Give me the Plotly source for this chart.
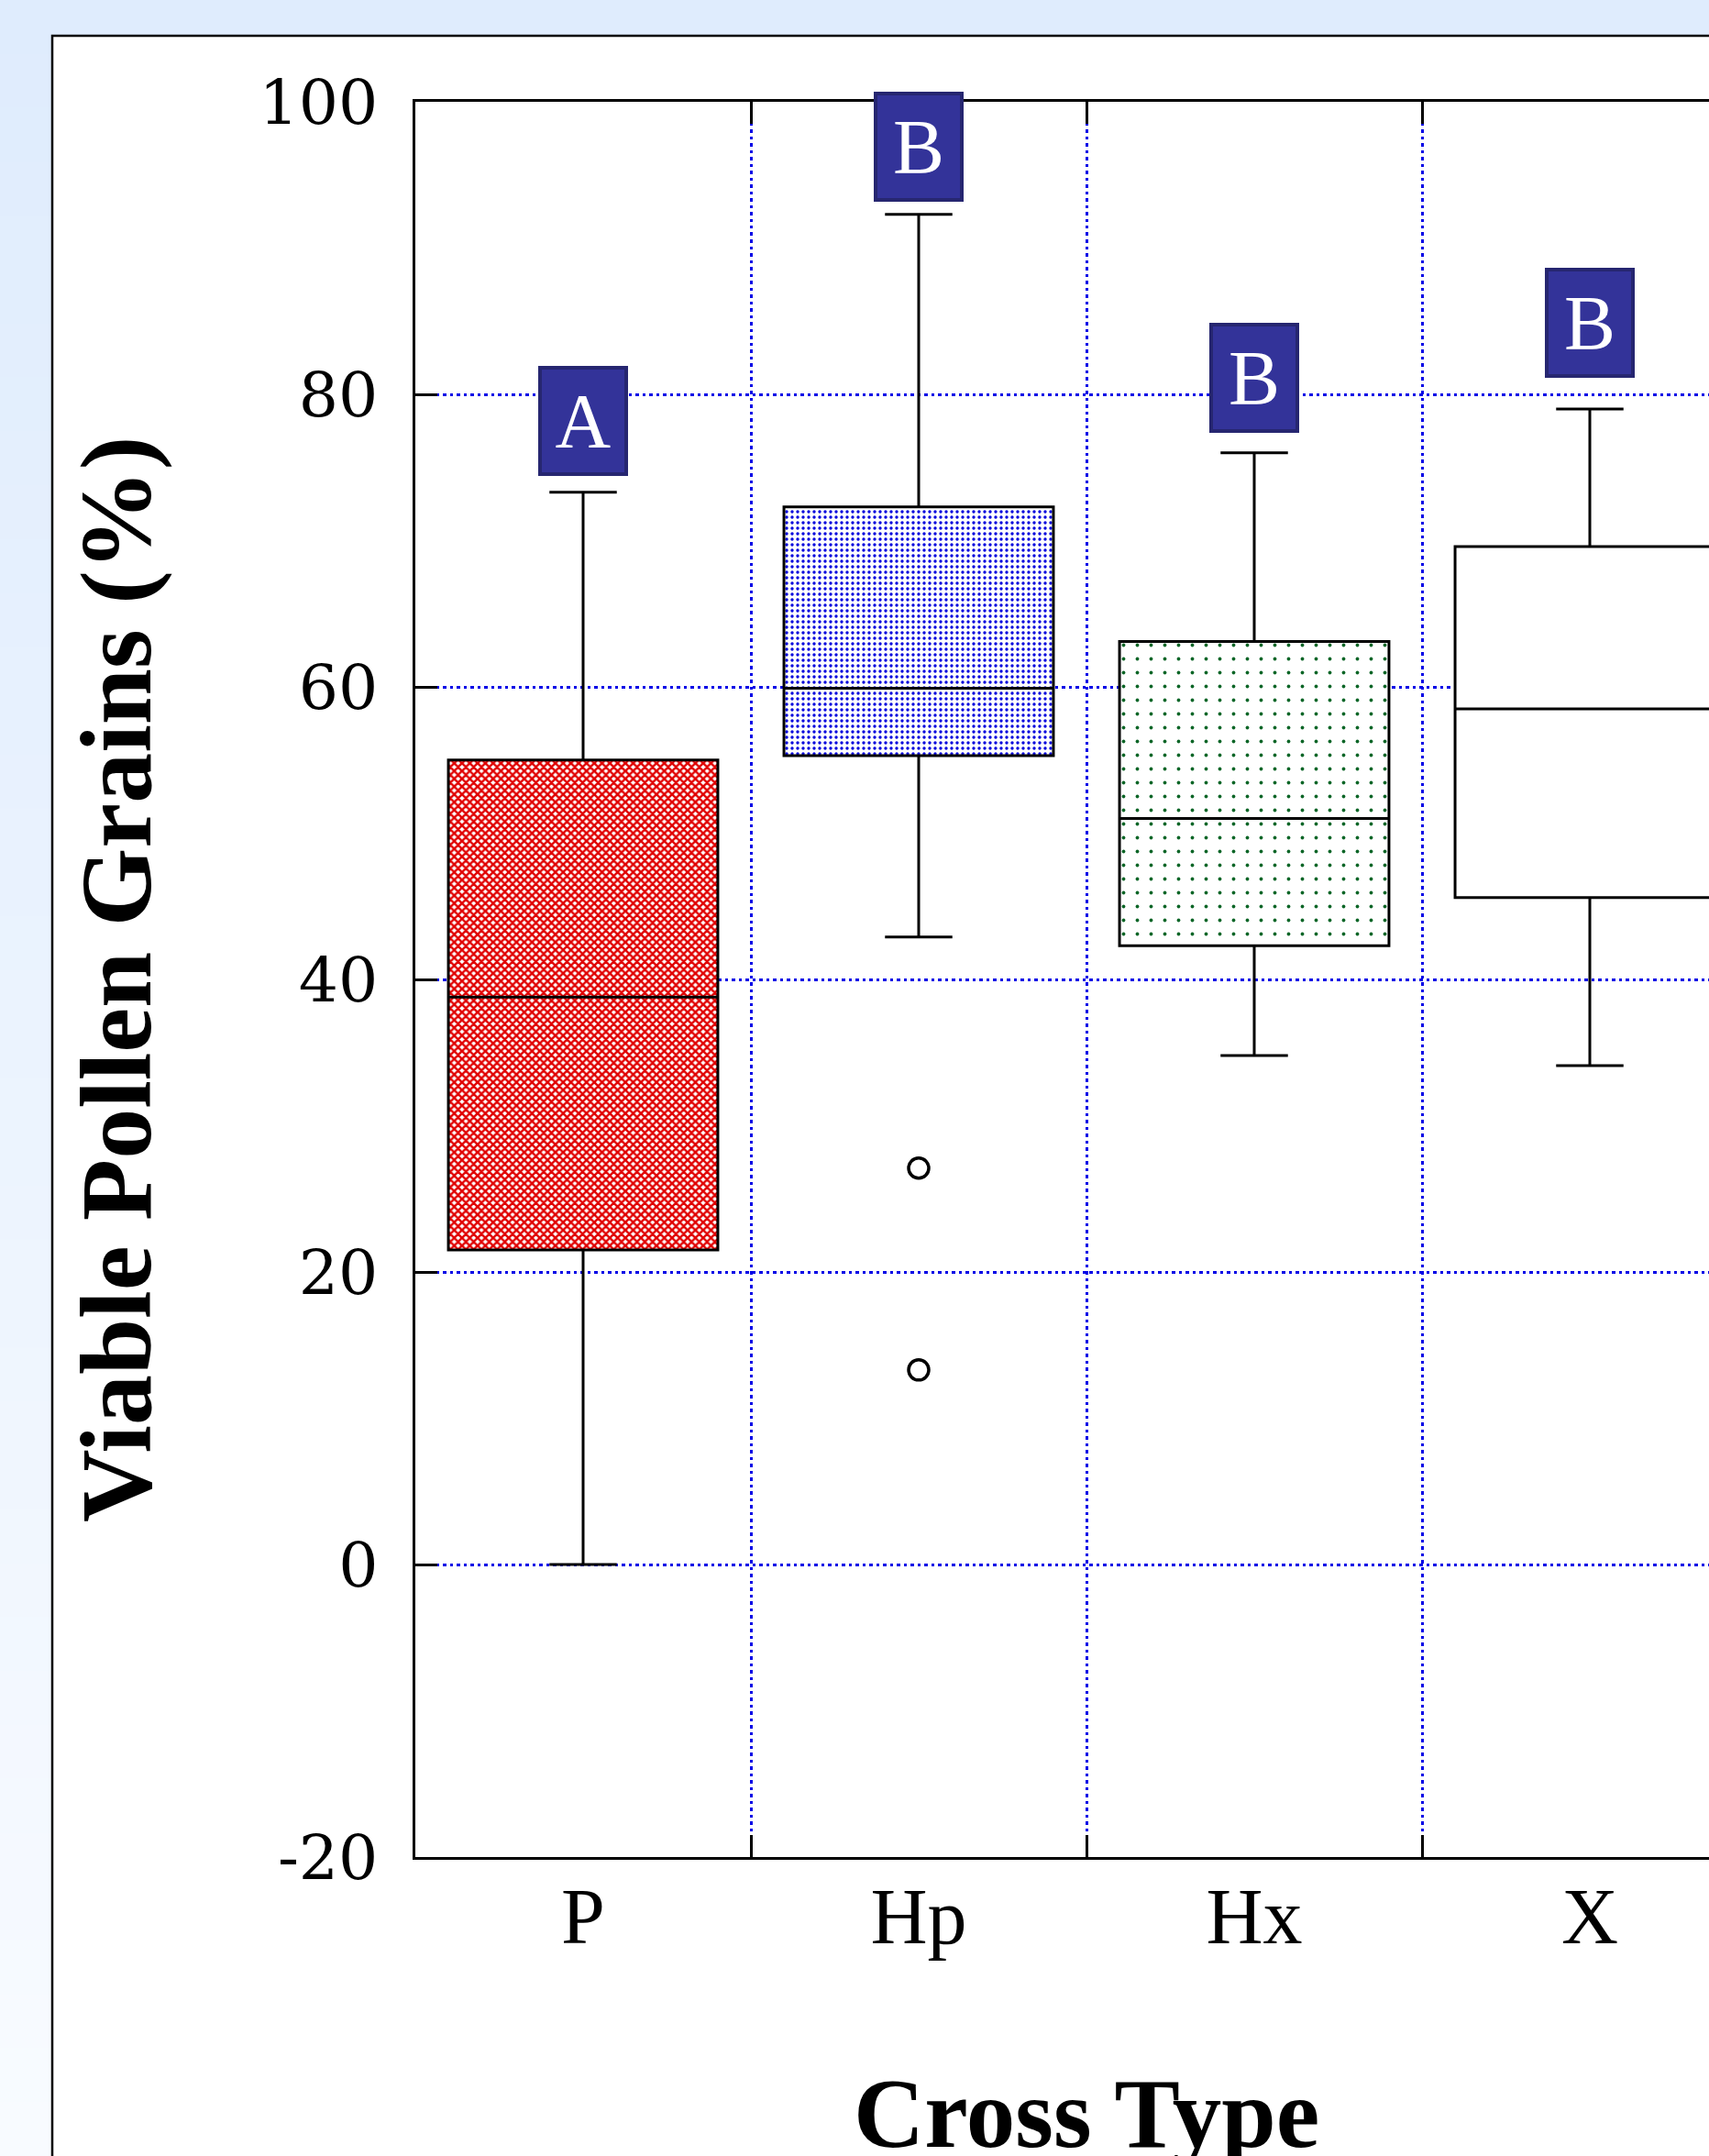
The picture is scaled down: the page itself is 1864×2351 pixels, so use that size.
import plotly.graph_objects as go

# ---------------- data ----------------
categories = ["P", "Hp", "Hx", "X"]
lower_fence = [0.0, 42.9, 34.8, 34.1]
q1_vals = [21.5, 55.3, 42.3, 45.6]
median_vals = [38.8, 59.9, 51.0, 58.5]
q3_vals = [55.0, 72.3, 63.1, 69.6]
upper_fence = [73.3, 92.3, 76.0, 79.0]

outlier_cat = ["Hp", "Hp"]
outlier_vals = [27.1, 13.3]

sig_letters = ["A", "B", "B", "B"]
sig_y = [78.2, 96.9, 81.1, 84.9]

y_ticks = [-20, 0, 20, 40, 60, 80, 100]

# ---------------- styling ----------------
W, H = 1864, 2351
L, T, B = 453, 111, 326          # plot area margins (px)
PW = W - L
PH = H - T - B

def px2paper_x(px):
    return (px - L) / PW

def px2paper_y(py):
    return (H - B - py) / PH

fills = [
    dict(fg="#e00000", shape="x", size=6, solidity=0.65),
    dict(fg="#0000dd", shape=".", size=6, solidity=0.25),
    dict(fg="#0d6628", shape=".", size=15, solidity=0.05),
    None,
]

BOXW = 0.803
GRID = "#0000e6"

fig = go.Figure()

for i, c in enumerate(categories):
    f = fills[i]
    if f is not None:
        fig.add_trace(go.Bar(
            x=[c], y=[q3_vals[i] - q1_vals[i]], base=[q1_vals[i]],
            width=BOXW,
            marker=dict(color=f["fg"], line=dict(width=0),
                        pattern=dict(shape=f["shape"], fgcolor=f["fg"], bgcolor="white",
                                     size=f["size"], solidity=f["solidity"], fillmode="replace")),
            showlegend=False, hoverinfo="skip",
        ))

for i, c in enumerate(categories):
    fig.add_trace(go.Box(
        x=[c], q1=[q1_vals[i]], median=[median_vals[i]], q3=[q3_vals[i]],
        lowerfence=[lower_fence[i]], upperfence=[upper_fence[i]],
        width=BOXW, whiskerwidth=0.25,
        fillcolor="white" if fills[i] is None else "rgba(0,0,0,0)",
        line=dict(color="black", width=3),
        boxpoints=False, showlegend=False,
    ))

fig.add_trace(go.Scatter(
    x=outlier_cat, y=outlier_vals, mode="markers",
    marker=dict(symbol="circle-open", size=22, color="black", line=dict(width=3.5, color="black")),
    showlegend=False, hoverinfo="skip",
))

# significance letters
for c, lt, yv in zip(categories, sig_letters, sig_y):
    fig.add_annotation(
        x=c, y=yv, xref="x", yref="y", text=lt, showarrow=False,
        font=dict(family="Liberation Serif", size=84, color="white"),
        bgcolor="#333399", bordercolor="#262670", borderwidth=4, borderpad=0,
        width=90, height=112, align="center", valign="middle",
    )

# axis titles
fig.add_annotation(
    x=px2paper_x(127), y=0.5, xref="paper", yref="paper",
    text="<b>Viable Pollen Grains (%)</b>", textangle=-90, showarrow=False,
    font=dict(family="Liberation Serif", size=110, color="black"),
    xanchor="center", yanchor="middle",
)
fig.add_annotation(
    x=1.5, y=px2paper_y(2305), xref="x", yref="paper",
    text="<b>Cross Type</b>", showarrow=False,
    font=dict(family="Liberation Serif", size=107, color="black"),
    xanchor="center", yanchor="middle",
)

# background: light blue frame with gradient on the left strip, white panel
shapes = []
nb = 40
top_rgb = (0xdf, 0xec, 0xfd)
bot_rgb = (0xf8, 0xfb, 0xff)
for k in range(nb):
    t = k / (nb - 1)
    col = "rgb(%d,%d,%d)" % tuple(round(a + (b - a) * t) for a, b in zip(top_rgb, bot_rgb))
    y0 = k * H / nb
    y1 = (k + 1) * H / nb + 1
    shapes.append(dict(type="rect", xref="paper", yref="paper", layer="below",
                       x0=px2paper_x(0), x1=px2paper_x(57),
                       y0=px2paper_y(y1), y1=px2paper_y(y0),
                       fillcolor=col, line=dict(width=0)))
shapes.append(dict(type="rect", xref="paper", yref="paper", layer="below",
                   x0=px2paper_x(57), x1=px2paper_x(W + 50),
                   y0=px2paper_y(H + 50), y1=px2paper_y(39),
                   fillcolor="white", line=dict(color="black", width=2.5)))

fig.update_layout(
    width=W, height=H,
    margin=dict(l=L, r=0, t=T, b=B, pad=0),
    paper_bgcolor="#dfecfd",
    plot_bgcolor="white",
    shapes=shapes,
    barmode="overlay",
    boxmode="overlay",
    showlegend=False,
    font=dict(family="Liberation Serif", color="black"),
)

fig.update_xaxes(
    type="category", categoryorder="array", categoryarray=categories,
    range=[-0.5, -0.5 + PW / 366.0],
    tickson="boundaries", ticks="inside", ticklen=24, tickwidth=3, tickcolor="black",
    showgrid=True, gridcolor=GRID, gridwidth=3, griddash="3.5px,4px",
    showline=True, linecolor="black", linewidth=3, mirror="ticks",
    tickfont=dict(family="Liberation Serif", size=86, color="black"),
    ticklabelstandoff=-12,
    zeroline=False,
)
fig.update_yaxes(
    range=[-20, 100], tickvals=y_ticks, ticktext=[str(v) for v in y_ticks],
    ticks="inside", ticklen=24, tickwidth=3, tickcolor="black",
    showgrid=True, gridcolor=GRID, gridwidth=3, griddash="3.5px,4px",
    showline=True, linecolor="black", linewidth=3, mirror=False,
    tickfont=dict(family="DejaVu Serif", size=68, color="black"),
    ticklabelstandoff=24,
    zeroline=False,
)

fig.write_html(
    "out.html",
    config={"displayModeBar": False},
    post_script="document.body.style.margin='0';document.body.style.overflow='hidden';",
)
